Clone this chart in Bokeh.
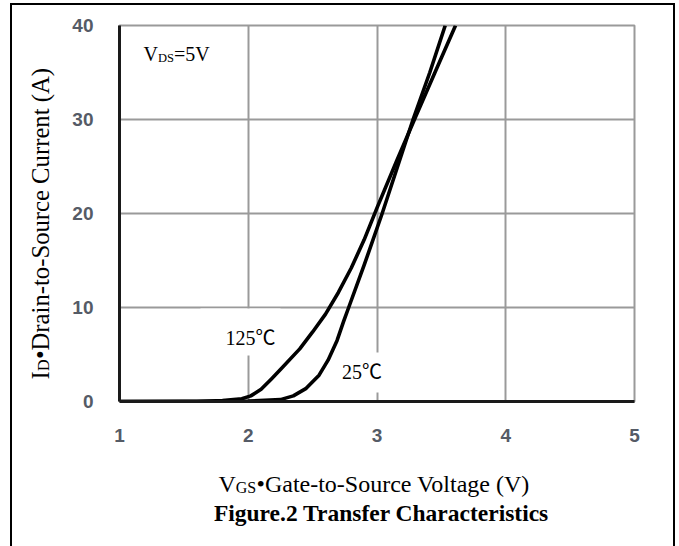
import math
from bokeh.plotting import figure
from bokeh.models import Label, FixedTicker, Range1d
from bokeh.embed import file_html
from bokeh.resources import INLINE

# ---- data ----
vgs_125 = [1.0, 1.6, 1.8, 1.95, 2.02, 2.1, 2.18, 2.25, 2.4, 2.5, 2.6, 2.7, 2.8, 2.9, 3.0, 3.15, 3.3, 3.45, 3.61]
id_125 = [0.0, 0.0, 0.1, 0.3, 0.6, 1.3, 2.4, 3.4, 5.6, 7.4, 9.3, 11.6, 14.2, 17.2, 20.6, 25.5, 30.3, 35.0, 40.0]
vgs_25 = [1.0, 2.0, 2.25, 2.35, 2.45, 2.55, 2.62, 2.69, 2.74, 2.78, 2.9, 3.04, 3.16, 3.28, 3.41, 3.53]
id_25 = [0.0, 0.05, 0.2, 0.6, 1.4, 2.8, 4.4, 6.5, 8.5, 10.0, 14.5, 20.0, 25.0, 30.0, 35.0, 40.0]
x_ticks = [1, 2, 3, 4, 5]
y_ticks = [0, 10, 20, 30, 40]

SERIF = "'Liberation Serif', 'Times New Roman', serif"
SERIF_CJK = "'Liberation Serif', 'Noto Sans CJK SC', serif"

W, H = 679, 546
p = figure(width=W, height=H, x_range=Range1d(1, 5), y_range=Range1d(0, 40),
           output_backend="svg", toolbar_location=None,
           min_border_left=119, min_border_right=45, min_border_top=25, min_border_bottom=145)
p.title.visible = False
p.border_fill_color = None
p.background_fill_color = "white"
p.styles = {"background": "linear-gradient(#000,#000) 10px 3px / 2px calc(100% - 3px) no-repeat, "
                          "linear-gradient(#000,#000) 10px 3px / 665px 2px no-repeat, "
                          "linear-gradient(#000,#000) 673px 3px / 2px calc(100% - 3px) no-repeat"}

p.outline_line_color = "#9a9a9a"
p.outline_line_width = 2

p.xaxis.ticker = FixedTicker(ticks=x_ticks)
p.yaxis.ticker = FixedTicker(ticks=y_ticks)
for ax in (p.xaxis[0], p.yaxis[0]):
    ax.axis_line_color = "#1a1a1a"
    ax.axis_line_width = 3
    ax.major_tick_line_color = None
    ax.minor_tick_line_color = None
    ax.major_label_text_font = "Liberation Sans"
    ax.major_label_text_font_style = "bold"
    ax.major_label_text_font_size = "19px"
    ax.major_label_text_color = "#555b66"
p.xaxis.major_label_standoff = 21
p.yaxis.major_label_standoff = 20

p.grid.grid_line_color = "#9a9a9a"
p.grid.grid_line_width = 2
p.xgrid.ticker = FixedTicker(ticks=x_ticks)
p.ygrid.ticker = FixedTicker(ticks=y_ticks)


def dx(px):
    return 1 + (px - 119) / 128.75


def dy(py):
    return (401 - py) / 9.4


# white boxes behind temperature labels
p.quad(left=[dx(200), dx(338)], right=[dx(280), dx(410)],
       top=[dy(308), dy(352)], bottom=[dy(355), dy(392)],
       fill_color="white", line_color=None)

p.line(vgs_125, id_125, line_color="black", line_width=3.6, line_join="round")
p.line(vgs_25, id_25, line_color="black", line_width=3.6, line_join="round")

SHIFT = 8.5  # correction between requested and rendered baseline


def lab(px, py, text, size, font=SERIF, style="normal", align="left", rot=False, place="center"):
    if rot:
        x, y, angle = dx(px - SHIFT), dy(py), math.pi / 2
    else:
        x, y, angle = dx(px), dy(py - SHIFT), 0.0
    label = Label(x=x, y=y, text=text, text_font=font, text_font_size=size,
                  text_font_style=style, text_align=align, text_baseline="alphabetic",
                  text_color="black", angle=angle)
    p.add_layout(label, place)


# V_DS = 5V
lab(143, 62, "V", "20px")
lab(157.4, 65.5, "DS", "12.5px")
lab(173.4, 62, "=5V", "20px")

# temperatures
lab(225, 346, "125\u2103", "20px", font=SERIF_CJK)
lab(341.5, 380, "25\u2103", "20px", font=SERIF_CJK)

# x axis label
lab(218, 492, "V", "24px", place="below")
lab(235.3, 495.5, "GS", "16px", place="right")
lab(256, 492, "\u2022Gate-to-Source Voltage (V)", "24px", place="below")

# y axis label (rotated)
lab(48, 379, "I", "24.7px", rot=True, place="left")
lab(51.5, 370.5, "D", "16px", rot=True, place="above")
lab(48, 358.6, "\u2022Drain-to-Source Current (A)", "24.7px", rot=True, place="left")

# caption
lab(381, 521, "Figure.2 Transfer Characteristics", "23.5px", style="bold",
    align="center", place="below")

open("out.html", "w").write(file_html(p, INLINE))
